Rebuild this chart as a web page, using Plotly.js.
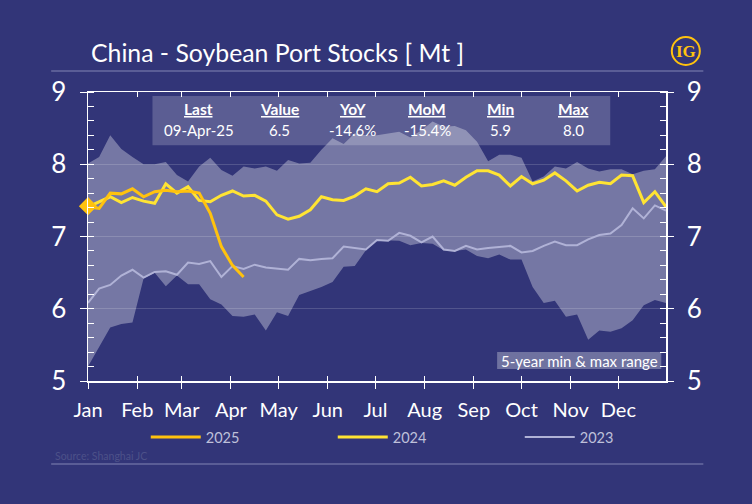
<!DOCTYPE html>
<html><head><meta charset="utf-8">
<script src="https://cdn.plot.ly/plotly-3.0.1.min.js"></script>
<style>html,body{margin:0;padding:0;background:#323578}</style></head>
<body><div id="chart" style="width:752px;height:504px"></div>
<script>
const weeks = ["2025-01-01","2025-01-08","2025-01-15","2025-01-22","2025-01-29","2025-02-05","2025-02-12","2025-02-19","2025-02-26","2025-03-05","2025-03-12","2025-03-19","2025-03-26","2025-04-02","2025-04-09","2025-04-16","2025-04-23","2025-04-30","2025-05-07","2025-05-14","2025-05-21","2025-05-28","2025-06-04","2025-06-11","2025-06-18","2025-06-25","2025-07-02","2025-07-09","2025-07-16","2025-07-23","2025-07-30","2025-08-06","2025-08-13","2025-08-20","2025-08-27","2025-09-03","2025-09-10","2025-09-17","2025-09-24","2025-10-01","2025-10-08","2025-10-15","2025-10-22","2025-10-29","2025-11-05","2025-11-12","2025-11-19","2025-11-26","2025-12-03","2025-12-10","2025-12-17","2025-12-24","2025-12-31"];
const rangeMax = [8.01,8.10,8.40,8.21,8.10,8.00,8.00,8.03,7.85,7.76,7.97,8.09,7.92,7.84,7.97,7.94,7.97,7.91,8.06,8.01,8.02,8.20,8.36,8.28,8.43,8.40,8.40,8.43,8.45,8.37,8.47,8.59,8.52,8.53,8.47,8.31,8.04,8.13,8.13,8.09,7.76,7.83,7.97,7.94,8.03,7.94,7.90,7.93,7.93,7.86,7.91,7.93,8.11];
const rangeMin = [5.20,5.47,5.74,5.79,5.81,6.42,6.50,6.31,6.46,6.34,6.34,6.13,6.06,5.90,5.89,5.92,5.70,5.95,5.90,6.19,6.24,6.30,6.37,6.58,6.59,6.81,6.95,6.94,6.94,6.88,6.91,6.90,6.81,6.80,6.82,6.73,6.70,6.75,6.68,6.68,6.30,6.08,6.11,5.89,5.92,5.57,5.70,5.68,5.73,5.84,6.05,6.12,6.08];
const y2025 = [7.41,7.39,7.60,7.59,7.66,7.55,7.62,7.64,7.62,7.63,7.60,7.32,6.86,6.60,6.44];
const y2024 = [7.41,7.48,7.55,7.47,7.54,7.49,7.46,7.73,7.60,7.69,7.50,7.48,7.57,7.63,7.56,7.57,7.49,7.30,7.24,7.28,7.37,7.55,7.51,7.50,7.56,7.66,7.62,7.73,7.74,7.82,7.70,7.72,7.77,7.71,7.82,7.91,7.91,7.85,7.70,7.83,7.73,7.78,7.88,7.77,7.63,7.71,7.75,7.73,7.85,7.84,7.47,7.62,7.41];
const y2023 = [6.08,6.28,6.33,6.46,6.54,6.43,6.51,6.52,6.47,6.64,6.62,6.66,6.44,6.59,6.55,6.61,6.57,6.56,6.54,6.69,6.67,6.69,6.70,6.86,6.84,6.82,6.95,6.94,7.05,7.01,6.92,7.00,6.82,6.80,6.87,6.82,6.84,6.85,6.87,6.78,6.80,6.87,6.93,6.88,6.88,6.96,7.02,7.04,7.16,7.39,7.25,7.43,7.36];
const tableHeads = ["Last","Value","YoY","MoM","Min","Max"];
const tableVals = ["09-Apr-25","6.5","-14.6%","-15.4%","5.9","8.0"];
const tableCentersPx = [199,280,353,427,500,573];

const W=752,H=504,L=88.3,R=665.7,T=92,B=381;
const px=v=>(v-L)/(R-L), py=v=>(B-v)/(B-T);
const FONT="Lato";
const xRange=["2025-01-01","2025-12-31"], yRange=[5,9];
const traces=[
 {x:weeks,y:rangeMin,mode:"lines",line:{width:0,color:"rgba(0,0,0,0)"},showlegend:false,hoverinfo:"skip"},
 {x:weeks,y:rangeMax,mode:"lines",line:{width:0,color:"rgba(0,0,0,0)"},fill:"tonexty",fillcolor:"rgba(255,255,255,0.33)",showlegend:false,hoverinfo:"skip"},
 {x:weeks,y:y2023,xaxis:"x2",yaxis:"y2",mode:"lines",name:"2023",line:{color:"#B0B2D6",width:2}},
 {x:weeks,y:y2024,xaxis:"x2",yaxis:"y2",mode:"lines",name:"2024",line:{color:"#FFE433",width:3}},
 {x:weeks,y:y2025,xaxis:"x2",yaxis:"y2",mode:"lines",name:"2025",line:{color:"#FFC20E",width:3}},
 {x:[weeks[0]],y:[y2025[0]+0.01],xaxis:"x2",yaxis:"y2",mode:"markers",marker:{symbol:"diamond",size:14,color:"#FFC20E"},cliponaxis:false,showlegend:false,hoverinfo:"skip"}
];
const anns=[];
const note=(x,y,text,font,xanchor)=>anns.push({xref:"paper",yref:"paper",x:px(x),y:py(y),xanchor:xanchor||"center",yanchor:"middle",text,showarrow:false,font});
tableHeads.forEach((h,i)=>{
 note(tableCentersPx[i],109,"<b><u>"+h+"</u></b>",{family:FONT,size:15.5,color:"#fff"});
 note(tableCentersPx[i],130,tableVals[i],{family:FONT,size:15,color:"#fff"});
});
note(579,361,"5-year min &amp; max range",{family:FONT,size:15,color:"#fff"});
note(53,456,"Source: Shanghai JC",{family:FONT,size:10.5,color:"#4d5189"},"left");
note(685.5,51,"<b>IG</b>",{family:"Liberation Serif",size:17,color:"#FFC20E"});
const rect=(x0,x1,y0,y1,fill)=>({type:"rect",xref:"paper",yref:"paper",x0:px(x0),x1:px(x1),y0:py(y0),y1:py(y1),fillcolor:fill,line:{width:0},layer:"above"});
const hline=(y)=>({type:"line",xref:"paper",yref:"paper",x0:px(51.5),x1:px(703),y0:py(y),y1:py(y),line:{color:"#5A5D96",width:2},layer:"above"});
const common={showgrid:false,zeroline:false,showline:true,linecolor:"#fff",linewidth:1.5,tickcolor:"#fff",tickwidth:1,tickfont:{family:FONT,size:26,color:"#fff"}};
const layout={
 width:W,height:H,paper_bgcolor:"#323578",plot_bgcolor:"#323578",
 margin:{l:L,r:W-R,t:T,b:H-B,pad:0},
 title:{text:"China - Soybean Port Stocks [ Mt ]",x:91/W,xanchor:"left",xref:"container",y:1-53/H,yanchor:"middle",font:{family:FONT,size:24.8,color:"#fff"}},
 xaxis:{...common,range:xRange,type:"date",dtick:"M1",tick0:"2025-01-01",tickformat:"%b",ticks:"outside",ticklen:6,ticklabelstandoff:4,tickfont:{family:FONT,size:20,color:"#fff"}},
 xaxis2:{...common,range:xRange,type:"date",dtick:"M1",tick0:"2025-01-01",overlaying:"x",anchor:"y2",side:"bottom",ticks:"inside",ticklen:5,mirror:"ticks",showticklabels:false},
 yaxis:{...common,range:yRange,dtick:1,ticks:"outside",ticklen:7,showgrid:true,gridcolor:"rgba(255,255,255,0.16)",gridwidth:1,
   minor:{dtick:0.2,ticks:"inside",ticklen:6,tickcolor:"#fff",tickwidth:1,showgrid:false},ticklabelstandoff:8},
 yaxis2:{...common,range:yRange,dtick:1,overlaying:"y",anchor:"x2",side:"right",ticks:"outside",ticklen:6,
   minor:{dtick:0.2,ticks:"inside",ticklen:6,tickcolor:"#fff",tickwidth:1,showgrid:false},ticklabelstandoff:8},
 legend:{orientation:"h",x:px(146),xanchor:"left",y:py(437),yanchor:"middle",itemwidth:50,entrywidth:122,entrywidthmode:"pixels",traceorder:"reversed",bgcolor:"rgba(0,0,0,0)",font:{family:FONT,size:14.5,color:"#BFC0DA"},itemclick:false,itemdoubleclick:false},
 shapes:[rect(152.7,610,96,145.3,"rgba(255,255,255,0.2)"),rect(497,661,352,369,"rgba(255,255,255,0.3)"),hline(71),hline(464),
  {type:"circle",xref:"paper",yref:"paper",x0:px(671.5),x1:px(699.5),y0:py(65),y1:py(37),line:{color:"#FFC20E",width:2},fillcolor:"rgba(0,0,0,0)",layer:"above"}],
 annotations:anns,showlegend:true,hovermode:false
};
Plotly.newPlot("chart",traces,layout,{displayModeBar:false,staticPlot:true});
</script></body></html>
